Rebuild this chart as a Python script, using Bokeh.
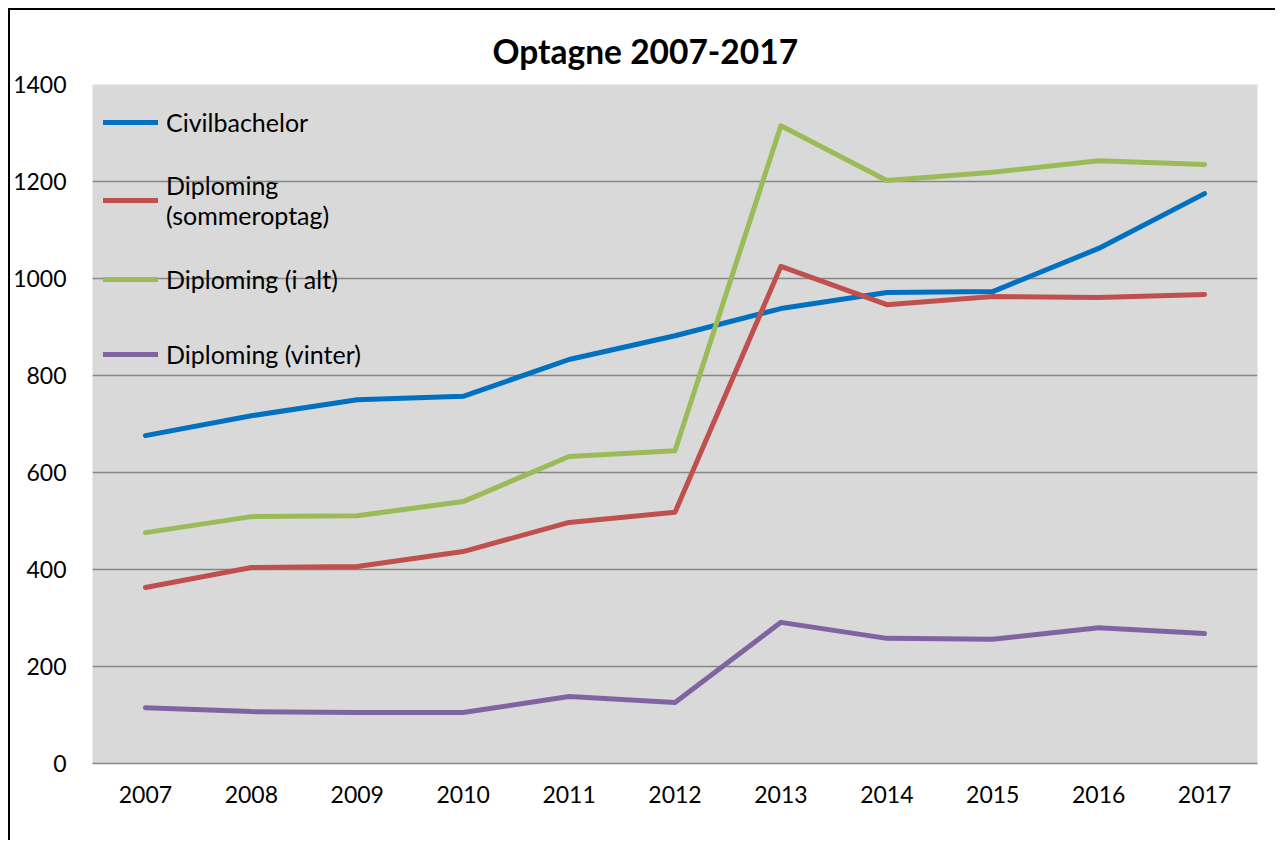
from bokeh.plotting import figure
from bokeh.models import FactorRange, Range1d, Legend, LegendItem, FixedTicker
from bokeh.embed import file_html
from bokeh.resources import INLINE

years = ["2007", "2008", "2009", "2010", "2011", "2012", "2013", "2014", "2015", "2016", "2017"]
civilbachelor = [676, 717, 750, 757, 833, 882, 938, 971, 973, 1062, 1175]
diploming_sommer = [363, 404, 406, 437, 497, 518, 1025, 946, 963, 961, 967]
diploming_i_alt = [476, 509, 511, 540, 633, 645, 1315, 1202, 1219, 1243, 1235]
diploming_vinter = [115, 107, 105, 105, 138, 126, 291, 258, 256, 280, 268]
series_labels = ["Civilbachelor", "Diploming\n(sommeroptag)", "Diploming (i alt)", "Diploming (vinter)"]
series_colors = ["#0070C0", "#C0504D", "#9BBB59", "#8064A2"]
y_ticks = [0, 200, 400, 600, 800, 1000, 1200, 1400]

FONT = "Lato"

p = figure(width=1267, height=832,
           x_range=FactorRange(*years, range_padding=0),
           y_range=Range1d(0, 1400),
           output_backend="svg", toolbar_location=None,
           min_border_left=82, min_border_right=20,
           min_border_top=74, min_border_bottom=79)
p.styles = {"border-left": "2px solid black", "border-top": "2px solid black",
            "margin-left": "8px", "margin-top": "8px"}

p.background_fill_color = "#D9D9D9"
p.border_fill_color = "white"
p.outline_line_color = None

p.title.text = "Optagne 2007-2017"
p.title.align = "left"
p.title.offset = 400
p.title.text_font = FONT
p.title.text_font_size = "33.5px"
p.title.text_font_style = "bold"
p.title.text_color = "black"
p.title.standoff = 27

series = [civilbachelor, diploming_sommer, diploming_i_alt, diploming_vinter]
items = []
for vals, lab, col in zip(series, series_labels, series_colors):
    r = p.line(x=years, y=vals, line_color=col, line_width=5,
               line_cap="round", line_join="round")
    items.append(LegendItem(label=lab, renderers=[r]))

legend = Legend(items=items, location="top_left")
legend.border_line_color = None
legend.background_fill_alpha = 0
legend.padding = 0
legend.margin = 11
legend.spacing = 22
legend.label_height = 53
legend.glyph_width = 55
legend.glyph_height = 20
legend.label_standoff = 8
legend.label_text_font = FONT
legend.label_text_font_size = "25px"
legend.label_text_color = "black"
legend.label_text_line_height = 1.35
p.add_layout(legend)

p.ygrid.grid_line_color = "#868686"
p.ygrid.grid_line_width = 1.5
p.xgrid.grid_line_color = None

p.yaxis.ticker = FixedTicker(ticks=y_ticks)
p.yaxis.axis_line_color = None
p.yaxis.major_tick_line_color = None
p.yaxis.minor_tick_line_color = None
p.yaxis.major_tick_out = 0
p.yaxis.major_tick_in = 0
p.yaxis.major_label_standoff = 26
p.yaxis.major_label_text_font = FONT
p.yaxis.major_label_text_font_size = "23px"
p.yaxis.major_label_text_color = "black"

p.xaxis.axis_line_color = "#868686"
p.xaxis.axis_line_width = 1.5
p.xaxis.major_tick_line_color = None
p.xaxis.minor_tick_line_color = None
p.xaxis.major_tick_out = 0
p.xaxis.major_tick_in = 0
p.xaxis.major_label_standoff = 22
p.xaxis.major_label_text_font = FONT
p.xaxis.major_label_text_font_size = "23px"
p.xaxis.major_label_text_color = "black"

open("out.html", "w").write(file_html(p, INLINE))
